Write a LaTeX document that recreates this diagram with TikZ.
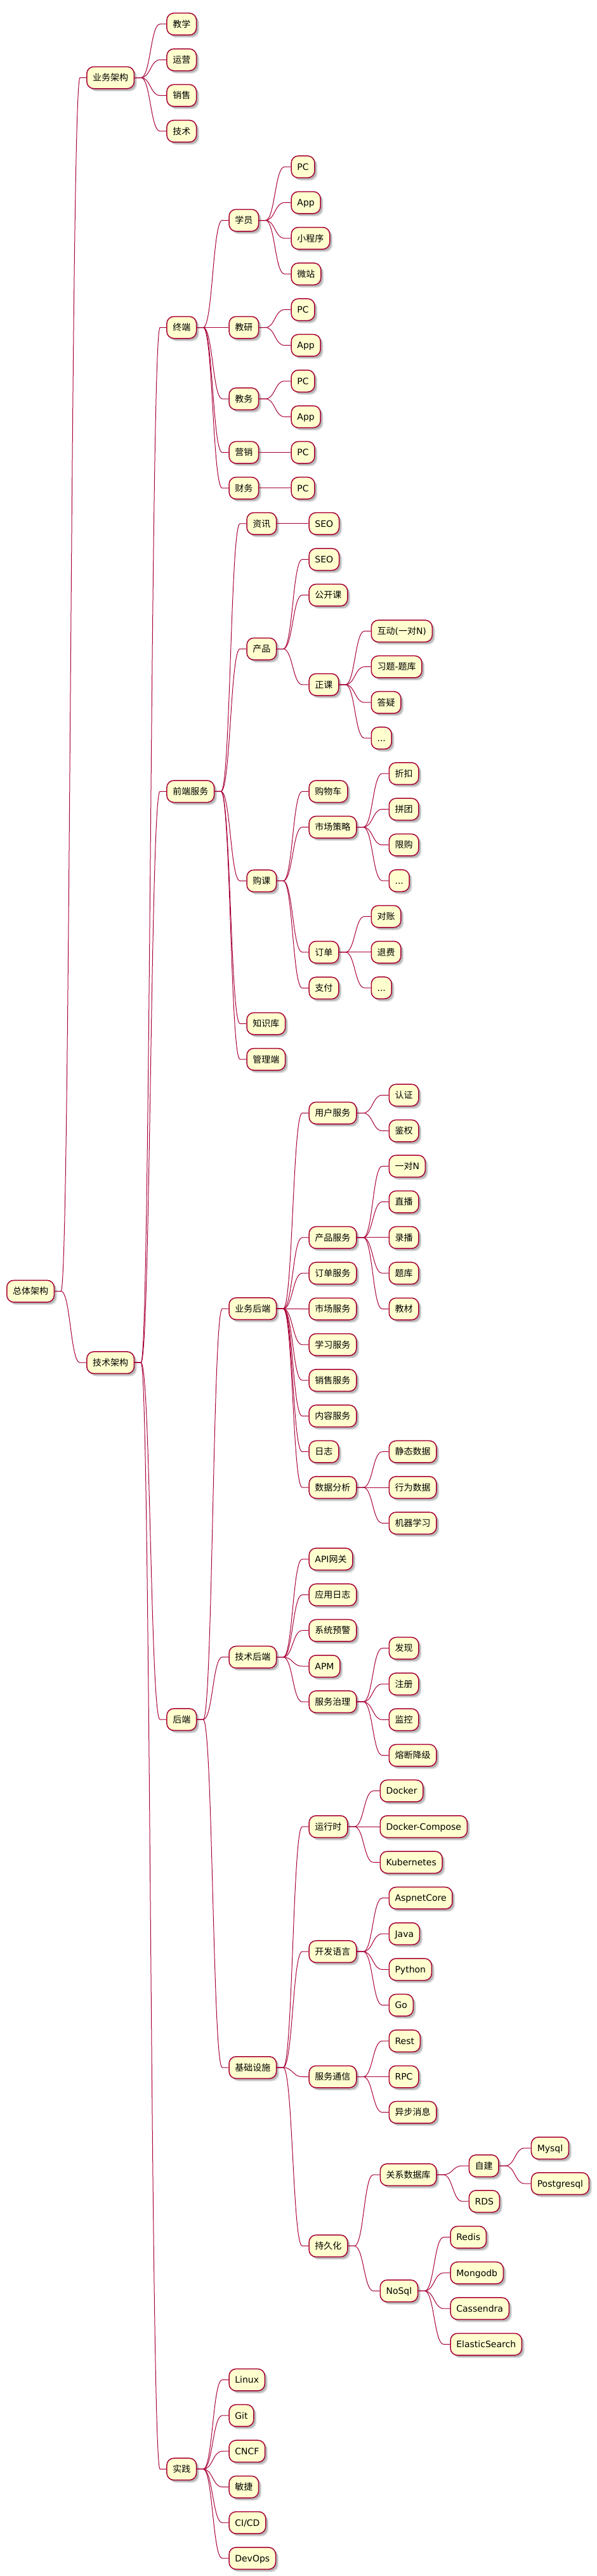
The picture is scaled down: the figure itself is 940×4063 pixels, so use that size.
\documentclass[tikz,border=0pt]{standalone}
\usepackage{fontspec}
\setmainfont{DejaVu Sans}
\newfontfamily\cjk{Noto Sans CJK SC}
\usetikzlibrary{calc,shadows}
\definecolor{mmborder}{HTML}{A80036}
\definecolor{mmfill}{HTML}{FEFECE}
\newcommand{\zh}[1]{{\cjk #1}}
\tikzset{
  mmbox/.style={draw=mmborder, line width=1.5pt, fill=mmfill, rounded corners=11pt,
    minimum height=34.5pt, inner xsep=9.3pt, inner ysep=0pt,
    text height=12pt, text depth=1.6pt,
    font=\fontsize{14pt}{16pt}\selectfont, anchor=west,
    drop shadow={shadow xshift=4.5pt, shadow yshift=-4.5pt, opacity=0.12, fill=black},
    drop shadow={shadow xshift=3pt, shadow yshift=-3pt, opacity=0.18, fill=black}},
  mmline/.style={draw=mmborder, line width=1pt}
}
\newcommand{\mmlink}[2]{\draw[mmline] (#1.east) -- ++(10pt,0pt) .. controls +(15pt,0pt) and +(-15pt,0pt) .. ([xshift=-10pt]#2.west) -- (#2.west);}
\newcommand{\mmn}[4]{\path let \p1=(#2.east) in node[mmbox] (#1) at (\x1+50pt,-#3pt) {#4};\mmlink{#2}{#1}}
\begin{document}
\begin{tikzpicture}
\fill[white] (0pt,0pt) rectangle (940pt,-4063pt);
\useasboundingbox (0pt,0pt) rectangle (940pt,-4063pt);
\node[mmbox] (root) at (10pt,-2036.6pt) {\zh{总体架构}};
\mmn{ywjg}{root}{122.5}{\zh{业务架构}}
\mmn{jx}{ywjg}{38}{\zh{教学}}
\mmn{yy}{ywjg}{94.3}{\zh{运营}}
\mmn{xs}{ywjg}{150.6}{\zh{销售}}
\mmn{js}{ywjg}{206.9}{\zh{技术}}
\mmn{jsjg}{root}{2149.2}{\zh{技术架构}}
\mmn{zd}{jsjg}{516.5}{\zh{终端}}
\mmn{xy}{zd}{347.5}{\zh{学员}}
\mmn{xyPC}{xy}{263.2}{PC}
\mmn{xyApp}{xy}{319.5}{App}
\mmn{xyXcx}{xy}{375.8}{\zh{小程序}}
\mmn{xyWz}{xy}{432.1}{\zh{微站}}
\mmn{jy}{zd}{516.5}{\zh{教研}}
\mmn{jyPC}{jy}{488.4}{PC}
\mmn{jyApp}{jy}{544.7}{App}
\mmn{jw}{zd}{629.1}{\zh{教务}}
\mmn{jwPC}{jw}{601}{PC}
\mmn{jwApp}{jw}{657.3}{App}
\mmn{yx}{zd}{713.6}{\zh{营销}}
\mmn{yxPC}{yx}{713.6}{PC}
\mmn{cw}{zd}{769.9}{\zh{财务}}
\mmn{cwPC}{cw}{769.9}{PC}
\mmn{qdfw}{jsjg}{1248.3}{\zh{前端服务}}
\mmn{zx}{qdfw}{825.8}{\zh{资讯}}
\mmn{zxSEO}{zx}{825.8}{SEO}
\mmn{cp}{qdfw}{1023.5}{\zh{产品}}
\mmn{cpSEO}{cp}{882.3}{SEO}
\mmn{gkk}{cp}{938.6}{\zh{公开课}}
\mmn{zk}{cp}{1079.8}{\zh{正课}}
\mmn{hdong}{zk}{995.4}{\zh{互动}(\zh{一对}N)}
\mmn{xt}{zk}{1051.7}{\zh{习题}-\zh{题库}}
\mmn{dy}{zk}{1107.9}{\zh{答疑}}
\mmn{zkMore}{zk}{1164.2}{...}
\mmn{gk}{qdfw}{1389.4}{\zh{购课}}
\mmn{gwc}{gk}{1248.3}{\zh{购物车}}
\mmn{sccl}{gk}{1304.6}{\zh{市场策略}}
\mmn{zkou}{sccl}{1220.1}{\zh{折扣}}
\mmn{pt}{sccl}{1276.4}{\zh{拼团}}
\mmn{xg}{sccl}{1332.7}{\zh{限购}}
\mmn{scMore}{sccl}{1389}{...}
\mmn{dd}{gk}{1501.8}{\zh{订单}}
\mmn{dz}{dd}{1445.5}{\zh{对账}}
\mmn{tf}{dd}{1501.8}{\zh{退费}}
\mmn{ddMore}{dd}{1558.1}{...}
\mmn{zf}{gk}{1558.4}{\zh{支付}}
\mmn{zsk}{qdfw}{1614.5}{\zh{知识库}}
\mmn{gld}{qdfw}{1670.8}{\zh{管理端}}
\mmn{hdd}{jsjg}{2712.1}{\zh{后端}}
\mmn{ywhd}{hdd}{2064.2}{\zh{业务后端}}
\mmn{yhfw}{ywhd}{1755.5}{\zh{用户服务}}
\mmn{rz}{yhfw}{1727.3}{\zh{认证}}
\mmn{jq}{yhfw}{1783.6}{\zh{鉴权}}
\mmn{cpfw}{ywhd}{1951.9}{\zh{产品服务}}
\mmn{ydn}{cpfw}{1839.3}{\zh{一对}N}
\mmn{zb}{cpfw}{1895.6}{\zh{直播}}
\mmn{lb}{cpfw}{1951.9}{\zh{录播}}
\mmn{tk}{cpfw}{2008.2}{\zh{题库}}
\mmn{jc}{cpfw}{2064.5}{\zh{教材}}
\mmn{ddfw}{ywhd}{2008.2}{\zh{订单服务}}
\mmn{scfw}{ywhd}{2064.5}{\zh{市场服务}}
\mmn{xxfw}{ywhd}{2120.8}{\zh{学习服务}}
\mmn{xsfw}{ywhd}{2177.1}{\zh{销售服务}}
\mmn{nrfw}{ywhd}{2233.4}{\zh{内容服务}}
\mmn{rzhi}{ywhd}{2289.7}{\zh{日志}}
\mmn{sjfx}{ywhd}{2346}{\zh{数据分析}}
\mmn{jtsj}{sjfx}{2289.7}{\zh{静态数据}}
\mmn{xwsj}{sjfx}{2346}{\zh{行为数据}}
\mmn{jqxx}{sjfx}{2402.3}{\zh{机器学习}}
\mmn{jshd}{hdd}{2613.7}{\zh{技术后端}}
\mmn{api}{jshd}{2459.1}{API\zh{网关}}
\mmn{yyrz}{jshd}{2515.4}{\zh{应用日志}}
\mmn{xtyj}{jshd}{2571.7}{\zh{系统预警}}
\mmn{apm}{jshd}{2628}{APM}
\mmn{fwzl}{jshd}{2684.1}{\zh{服务治理}}
\mmn{fx}{fwzl}{2599.7}{\zh{发现}}
\mmn{zc}{fwzl}{2656}{\zh{注册}}
\mmn{jk}{fwzl}{2712.3}{\zh{监控}}
\mmn{rdjj}{fwzl}{2768.6}{\zh{熔断降级}}
\mmn{jcss}{hdd}{3261}{\zh{基础设施}}
\mmn{yxs}{jcss}{2881}{\zh{运行时}}
\mmn{docker}{yxs}{2824.7}{Docker}
\mmn{dc}{yxs}{2881}{Docker-Compose}
\mmn{k8s}{yxs}{2937.3}{Kubernetes}
\mmn{kfyy}{jcss}{3078.2}{\zh{开发语言}}
\mmn{asp}{kfyy}{2993.7}{AspnetCore}
\mmn{java}{kfyy}{3050}{Java}
\mmn{py}{kfyy}{3106.3}{Python}
\mmn{go}{kfyy}{3162.6}{Go}
\mmn{fwtx}{jcss}{3275.5}{\zh{服务通信}}
\mmn{rest}{fwtx}{3219}{Rest}
\mmn{rpc}{fwtx}{3275.5}{RPC}
\mmn{ybxx}{fwtx}{3331.6}{\zh{异步消息}}
\mmn{cjh}{jcss}{3542.4}{\zh{持久化}}
\mmn{gxsjk}{cjh}{3430}{\zh{关系数据库}}
\mmn{zj}{gxsjk}{3416}{\zh{自建}}
\mmn{mysql}{zj}{3388}{Mysql}
\mmn{pg}{zj}{3444}{Postgresql}
\mmn{rds}{gxsjk}{3472}{RDS}
\mmn{nosql}{cjh}{3613.3}{NoSql}
\mmn{redis}{nosql}{3528.6}{Redis}
\mmn{mongo}{nosql}{3584.9}{Mongodb}
\mmn{cass}{nosql}{3641.2}{Cassendra}
\mmn{es}{nosql}{3697.5}{ElasticSearch}
\mmn{sj}{jsjg}{3894.4}{\zh{实践}}
\mmn{linux}{sj}{3753.6}{Linux}
\mmn{git}{sj}{3809.9}{Git}
\mmn{cncf}{sj}{3866.2}{CNCF}
\mmn{mj}{sj}{3922.5}{\zh{敏捷}}
\mmn{cicd}{sj}{3978.8}{CI/CD}
\mmn{devops}{sj}{4035.1}{DevOps}
\end{tikzpicture}
\end{document}
